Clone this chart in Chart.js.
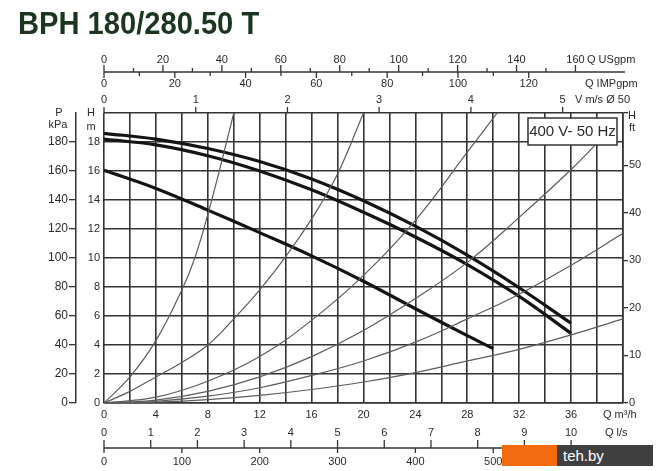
<!DOCTYPE html>
<html>
<head>
<meta charset="utf-8">
<title>BPH 180/280.50 T</title>
<script src="https://cdn.jsdelivr.net/npm/chart.js@4.4.1/dist/chart.umd.min.js"></script>
<style>
  html, body { margin: 0; padding: 0; background: #fff; }
  #wrap { position: relative; width: 670px; height: 471px; overflow: hidden; }
  #title {
    position: absolute; left: 18px; top: 7px; margin: 0;
    font: bold 32px/32px "Liberation Sans", Arial, sans-serif;
    color: #1b3520; white-space: nowrap;
    transform: scaleX(0.91); transform-origin: 0 0;
  }
  .wm-o { position: absolute; left: 502px; top: 445px; width: 55px; height: 21px; background: #f26b0e; }
  .wm-d {
    position: absolute; left: 557px; top: 445px; width: 96px; height: 21px;
    background: #3f3f3f; color: #fff; box-sizing: border-box; padding-left: 6px;
    font: 15px/21px "Liberation Sans", Arial, sans-serif;
  }
</style>
</head>
<body>
<div id="wrap">
  <canvas id="pumpChart" width="670" height="471"></canvas>
  <h1 id="title">BPH 180/280.50 T</h1>
  <div class="wm-o"></div>
  <div class="wm-d">teh.by</div>
</div>
<script>
// Pump curves, Q in m3/h, H in m
const pumpQ1 = [0, 4, 8, 12, 16, 20, 24, 28, 32, 36];
const pumpH1 = [18.6, 18.2, 17.55, 16.65, 15.45, 13.95, 12.2, 10.2, 7.95, 5.5];
const pumpQ2 = [0, 4, 8, 12, 16, 20, 24, 28, 32, 36];
const pumpH2 = [18.2, 17.8, 17.05, 16.0, 14.7, 13.15, 11.45, 9.55, 7.35, 4.8];
const pumpQ3 = [0, 4, 8, 12, 16, 20, 24, 28, 30];
const pumpH3 = [16.05, 14.8, 13.3, 11.75, 10.15, 8.4, 6.5, 4.65, 3.75];

// System (pipe) curves
const sysQ1 = [0, 2, 4, 6, 7, 8, 9, 10];
const sysH1 = [0, 1.8, 4.3, 7.8, 10.0, 13.0, 16.4, 20];
const sysQ2 = [0, 2, 4, 6, 8, 10, 12, 14, 16, 18, 20];
const sysH2 = [0, 0.8, 1.8, 2.8, 4.0, 5.8, 7.8, 10.1, 12.7, 15.8, 20];
const sysQ3 = [0, 4, 8, 12, 16, 20, 24, 28, 30.3];
const sysH3 = [0, 0.4, 1.5, 3.2, 5.7, 8.8, 12.6, 17.3, 20];
const sysQ4 = [0, 4, 8, 12, 16, 20, 24, 28, 32, 36, 38.5];
const sysH4 = [0, 0.2, 0.8, 1.8, 3.2, 5.0, 7.2, 9.7, 12.8, 16.1, 18.4];
const sysQ5 = [0, 4, 8, 12, 16, 20, 24, 28, 32, 36, 40];
const sysH5 = [0, 0.12, 0.47, 1.05, 1.9, 2.9, 4.2, 5.8, 7.5, 9.5, 11.7];
const sysQ6 = [0, 4, 8, 12, 16, 20, 24, 28, 32, 36, 40];
const sysH6 = [0, 0.06, 0.23, 0.52, 0.93, 1.45, 2.1, 2.9, 3.7, 4.7, 5.8];

// Secondary scale labels
const usgpmTicks = [0, 20, 40, 60, 80, 100, 120, 140, 160];
const impgpmTicks = [0, 20, 40, 60, 80, 100, 120];
const velTicks = [0, 1, 2, 3, 4, 5];
const lsTicks = [0, 1, 2, 3, 4, 5, 6, 7, 8, 9, 10];
const lminTicks = [0, 100, 200, 300, 400, 500, 600];
const boxLabel = '400 V- 50 Hz';

// unit conversions to m3/h
const M3H_PER_USGPM = 0.2271;
const M3H_PER_IMPGPM = 0.2728;
const M3H_PER_MS = 7.069;   // 1 m/s in a DN50 pipe
const M3H_PER_LS = 3.6;
const M3H_PER_LMIN = 0.06;

const fontFam = '"Liberation Sans", Arial, sans-serif';
const ink = '#2b2b2b';
const gridInk = '#333';
Chart.defaults.font.family = fontFam;

function pts(q, h) {
    return q.map((v, i) => ({ x: v, y: h[i] }));
}

function thin(q, h) {
    return { data: pts(q, h), borderColor: '#5c5c5c', borderWidth: 1.2 };
}
function thick(q, h) {
    return { data: pts(q, h), borderColor: '#141414', borderWidth: 3.2 };
}

// extra axes drawn with the x scale
const extraScales = {
    id: 'extraScales',
    afterDatasetsDraw(chart) {
        const { ctx, chartArea: a } = chart;
        const bx = a.right - 95, by = a.top + 5;
        ctx.save();
        ctx.fillStyle = '#fff';
        ctx.fillRect(bx, by, 89, 27);
        ctx.strokeStyle = '#333';
        ctx.lineWidth = 1.5;
        ctx.strokeRect(bx, by, 89, 27);
        ctx.fillStyle = ink;
        ctx.font = '15px ' + fontFam;
        ctx.textAlign = 'center';
        ctx.textBaseline = 'middle';
        ctx.fillText(boxLabel, bx + 44.5, by + 14);
        ctx.restore();
    },
    afterDraw(chart) {
        const { ctx, chartArea: a, scales: { x } } = chart;
        const X = q => x.getPixelForValue(q);
        const seg = (x1, y1, x2, y2) => {
            ctx.beginPath(); ctx.moveTo(x1, y1); ctx.lineTo(x2, y2); ctx.stroke();
        };
        ctx.save();
        ctx.strokeStyle = '#333';
        ctx.fillStyle = ink;
        ctx.lineWidth = 1.3;
        ctx.font = '11px ' + fontFam;
        ctx.textAlign = 'center';
        ctx.textBaseline = 'middle';

        // velocity scale on top edge
        velTicks.forEach(v => {
            const px = X(v * M3H_PER_MS);
            seg(px, a.top - 6, px, a.top);
            ctx.fillText(v, px, a.top - 13);
        });

        // USgpm / IMPgpm shared line
        const ly = a.top - 41;
        seg(X(0), ly, X(40) + 2, ly);
        usgpmTicks.forEach((v, i) => {
            const px = X(v * M3H_PER_USGPM);
            seg(px, ly - 7, px, ly);
            ctx.fillText(v, px, ly - 12);
            if (i < usgpmTicks.length - 1) {
                const m = X((v + usgpmTicks[i + 1]) / 2 * M3H_PER_USGPM);
                seg(m, ly - 4, m, ly);
            }
        });
        impgpmTicks.forEach((v, i) => {
            const px = X(v * M3H_PER_IMPGPM);
            seg(px, ly, px, ly + 6);
            ctx.fillText(v, px, ly + 12);
            if (i < impgpmTicks.length - 1) {
                const m = X((v + impgpmTicks[i + 1]) / 2 * M3H_PER_IMPGPM);
                seg(m, ly, m, ly + 4);
            }
        });

        // l/s and l/min line at the bottom
        const by = a.bottom + 45;
        seg(X(0), by, X(40) + 2, by);
        lsTicks.forEach(v => {
            const px = X(v * M3H_PER_LS);
            seg(px, by - 8, px, by);
            ctx.fillText(v, px, by - 15);
        });
        lminTicks.forEach(v => {
            const px = X(v * M3H_PER_LMIN);
            seg(px, by, px, by + 5);
            ctx.fillText(v, px, by + 14);
        });

        // unit captions
        ctx.textAlign = 'left';
        ctx.fillText('Q USgpm', X(0) + 483, ly - 12);
        ctx.fillText('Q IMPgpm', X(0) + 481, ly + 12);
        ctx.fillText('V m/s Ø 50', X(0) + 471, a.top - 13);
        ctx.fillText('Q m³/h', a.right - 20, a.bottom + 12);
        ctx.fillText('Q l/s', a.right - 18, by - 15);
        ctx.fillText('H', a.right + 5, a.top + 3);
        ctx.fillText('ft', a.right + 6, a.top + 15);
        ctx.textAlign = 'center';
        ctx.fillText('H', a.left - 13, a.top);
        ctx.fillText('m', a.left - 13, a.top + 14);
        ctx.fillText('P', a.left - 45, a.top);
        ctx.fillText('kPa', a.left - 46, a.top + 12);
        ctx.restore();
    }
};

const ctx = document.getElementById('pumpChart').getContext('2d');

new Chart(ctx, {
    type: 'line',
    data: {
        datasets: [
            thin(sysQ1, sysH1),
            thin(sysQ2, sysH2),
            thin(sysQ3, sysH3),
            thin(sysQ4, sysH4),
            thin(sysQ5, sysH5),
            thin(sysQ6, sysH6),
            thick(pumpQ1, pumpH1),
            thick(pumpQ2, pumpH2),
            thick(pumpQ3, pumpH3)
        ]
    },
    options: {
        responsive: false,
        animation: false,
        layout: { padding: { top: 113, left: 0, right: 0, bottom: 0 } },
        elements: {
            point: { radius: 0 },
            line: { tension: 0.4, fill: false, borderCapStyle: 'butt' }
        },
        plugins: {
            legend: { display: false },
            tooltip: { enabled: false }
        },
        scales: {
            x: {
                type: 'linear', min: 0, max: 40, position: 'bottom',
                ticks: {
                    stepSize: 2, autoSkip: false, maxRotation: 0, padding: 5,
                    color: ink, font: { size: 11 },
                    callback: v => (v % 4 === 0 && v < 40) ? v : ''
                },
                grid: { color: gridInk, lineWidth: 1.6, drawTicks: false },
                border: { color: gridInk, width: 1.6 },
                afterFit: s => { s.height = 68; }
            },
            y: {
                type: 'linear', min: 0, max: 20, position: 'left', weight: 0,
                ticks: {
                    stepSize: 2, padding: 4, color: ink, font: { size: 11 },
                    callback: v => v < 20 ? v : ''
                },
                grid: { color: gridInk, lineWidth: 1.6, drawTicks: false },
                border: { display: false },
                afterFit: s => { s.width = 28; }
            },
            yp: {
                type: 'linear', min: 0, max: 200, position: 'left', weight: 1,
                ticks: {
                    stepSize: 20, padding: 1, color: ink, font: { size: 12 },
                    callback: v => v < 200 ? v : ''
                },
                grid: {
                    drawOnChartArea: false, tickLength: 7, lineWidth: 1.3,
                    color: c => (c.tick && c.tick.value >= 200) ? 'rgba(0,0,0,0)' : '#333'
                },
                border: { color: '#333', width: 1.5 },
                afterFit: s => { s.width = 76; }
            },
            yft: {
                type: 'linear', min: 0, max: 61, position: 'right',
                ticks: {
                    stepSize: 10, padding: 1, color: ink, font: { size: 11 },
                    callback: v => v < 60 ? v : ''
                },
                grid: { drawOnChartArea: false, tickLength: 5, lineWidth: 1.3, color: '#333' },
                border: { color: gridInk, width: 1.6 },
                afterFit: s => { s.width = 47; }
            }
        }
    },
    plugins: [extraScales]
});
</script>
</body>
</html>
